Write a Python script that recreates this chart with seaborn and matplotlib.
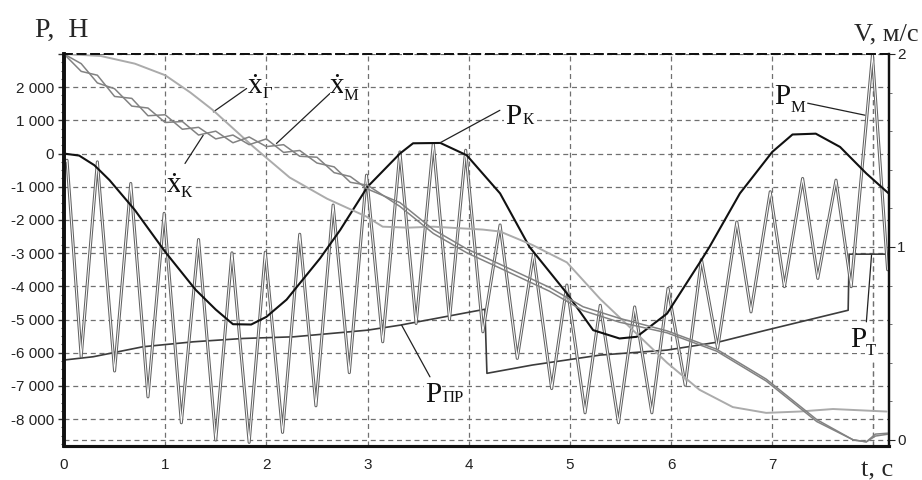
import matplotlib
matplotlib.use("Agg")
import matplotlib.pyplot as plt
import seaborn as sns
from matplotlib.ticker import MultipleLocator, FixedLocator, FuncFormatter

# P_M - oscillating force (peaks and troughs)
t_pm = [0.00, 0.03, 0.17, 0.33, 0.50, 0.66, 0.83, 0.99, 1.16, 1.33, 1.50, 1.66,
        1.83, 1.99, 2.16, 2.33, 2.49, 2.66, 2.82, 2.99, 3.15, 3.32, 3.48, 3.65,
        3.81, 3.97, 4.14, 4.31, 4.48, 4.64, 4.82, 4.97, 5.15, 5.30, 5.48, 5.64,
        5.81, 5.97, 6.14, 6.30, 6.46, 6.65, 6.79, 6.98, 7.12, 7.30, 7.45, 7.63,
        7.78, 7.99, 8.14]
p_m = [-300, -200, -6120, -250, -6550, -900, -7330, -1800, -8110, -2590, -8630, -2990,
       -8700, -2970, -8400, -2430, -7600, -1550, -6600, -650, -5670, 50, -5120, 300,
       -5000, 100, -5370, -2150, -6170, -3030, -7080, -3960, -7810, -4570, -8110, -4620,
       -7810, -4060, -6980, -3190, -5870, -2060, -4770, -1150, -4010, -750, -3760, -800,
       -4010, 2960, -3500]

# P_K - smooth force
t_pk = [0.00, 0.15, 0.30, 0.45, 0.70, 1.00, 1.30, 1.50, 1.67, 1.85, 2.00, 2.20,
        2.33, 2.53, 2.73, 3.00, 3.32, 3.45, 3.72, 3.98, 4.31, 4.60, 4.97, 5.23,
        5.49, 5.66, 5.96, 6.28, 6.38, 6.68, 7.00, 7.20, 7.43, 7.67, 7.93, 8.15]
p_k = [0, -60, -350, -800, -1700, -2960, -4100, -4700, -5140, -5150, -4920, -4400,
       -3910, -3160, -2300, -1000, 0, 310, 320, -50, -1200, -2810, -4210, -5320,
       -5570, -5520, -4820, -3300, -2810, -1200, 50, 575, 600, 200, -600, -1200]

# P_PR - ramp force with drops / jump
t_ppr = [0.00, 0.29, 0.78, 1.28, 1.77, 2.27, 3.00, 3.32, 4.16, 4.18, 4.63, 5.30,
         5.96, 6.48, 6.94, 7.75, 7.76, 8.15]
p_ppr = [-6220, -6120, -5820, -5670, -5570, -5520, -5320, -5170, -4690, -6620, -6370, -6070,
         -5920, -5670, -5320, -4720, -3030, -3030]

# velocities, m/s
t_g = [0.00, 0.36, 0.70, 1.00, 1.25, 1.47, 1.87, 2.23, 2.60, 2.99, 3.15, 3.40,
       3.65, 4.14, 4.31, 4.63, 4.97, 5.30, 5.62, 5.96, 6.28, 6.61, 6.94, 7.27,
       7.60, 8.13]
v_g = [2.00, 1.99, 1.95, 1.89, 1.80, 1.71, 1.52, 1.36, 1.25, 1.157, 1.105, 1.10,
       1.105, 1.09, 1.08, 1.01, 0.92, 0.73, 0.57, 0.40, 0.26, 0.17, 0.14, 0.147,
       0.16, 0.147]

t_v = [0.00, 0.17, 0.33, 0.50, 0.67, 0.83, 1.00, 1.17, 1.33, 1.50, 1.67, 1.83,
       2.00, 2.17, 2.33, 2.50, 2.67, 2.83, 3.00, 3.32, 3.65, 3.98, 4.31, 4.80,
       5.13, 5.49, 5.96, 6.45, 6.94, 7.44, 7.80, 7.93, 8.02, 8.15]
v_m = [2.00, 1.95, 1.85, 1.82, 1.73, 1.72, 1.645, 1.65, 1.58, 1.60, 1.54, 1.57,
       1.52, 1.53, 1.47, 1.465, 1.385, 1.365, 1.30, 1.23, 1.09, 0.99, 0.91, 0.79,
       0.69, 0.63, 0.565, 0.47, 0.315, 0.105, 0.0, -0.01, 0.03, 0.035]
v_k = [2.00, 1.91, 1.89, 1.78, 1.77, 1.68, 1.685, 1.61, 1.62, 1.56, 1.58, 1.53,
       1.56, 1.49, 1.50, 1.435, 1.415, 1.335, 1.32, 1.21, 1.07, 0.97, 0.89, 0.77,
       0.67, 0.61, 0.555, 0.46, 0.305, 0.095, 0.0, -0.01, 0.02, 0.03]

x_ticks = [0, 1, 2, 3, 4, 5, 6, 7]
y_ticks = [2000, 1000, 0, -1000, -2000, -3000, -4000, -5000, -6000, -7000, -8000]
v_ticks = [0, 1, 2]

sns.set_style("white")
plt.rcParams['font.family'] = ['Liberation Sans', 'DejaVu Sans']
serif = ['Liberation Serif', 'DejaVu Serif']

fig = plt.figure(figsize=(9.22, 4.8), dpi=100)
ax = fig.add_axes([0.0694, 0.0715, 0.8944, 0.8160])
ax2 = ax.twinx()

ax.set_xlim(0, 8.15)
ax.set_ylim(-8800, 3000)
ax2.set_ylim(-0.03, 2.0)

grid_kw = dict(color='#707070', linestyle=(0, (4, 3)), linewidth=0.9)
ax.set_axisbelow(True)
ax.grid(True, **grid_kw)
for v in [0, 1]:
    ax.axhline(-8800 + (v + 0.03) / 2.03 * 11800, zorder=0.5, **grid_kw)
ax.axvline(8, zorder=0.5, **grid_kw)

# forces
sns.lineplot(x=t_ppr, y=p_ppr, ax=ax, sort=False, estimator=None, color='#3c3c3c', lw=1.2)
sns.lineplot(x=t_pm, y=p_m, ax=ax, sort=False, estimator=None, color='#626262', lw=2.2)
sns.lineplot(x=t_pm, y=p_m, ax=ax, sort=False, estimator=None, color='white', lw=0.7)
sns.lineplot(x=t_pk, y=p_k, ax=ax, sort=False, estimator=None, color='#111111', lw=1.5)

# velocities
sns.lineplot(x=t_g, y=v_g, ax=ax2, sort=False, estimator=None, color='#ababab', lw=1.4)
sns.lineplot(x=t_v, y=v_m, ax=ax2, sort=False, estimator=None, color='#828282', lw=1.1)
sns.lineplot(x=t_v, y=v_k, ax=ax2, sort=False, estimator=None, color='#828282', lw=1.1)

# axes decoration
ax.xaxis.set_major_locator(FixedLocator(x_ticks + [8]))
ax.set_xticklabels([str(x) for x in x_ticks] + [''])
ax.xaxis.set_minor_locator(MultipleLocator(0.2))
ax.yaxis.set_major_locator(FixedLocator(y_ticks + [3000]))
ax.yaxis.set_minor_locator(MultipleLocator(250))


def fmt(v, pos):
    if v > 2500:
        return ''
    s = f"{abs(int(round(v))):,}".replace(",", " ")
    return ("-" if v < 0 else "") + s


ax.yaxis.set_major_formatter(FuncFormatter(fmt))
ax.tick_params(axis='both', which='major', direction='out', length=4, width=1,
               labelsize=11, labelcolor='#222222', color='#333333')
ax.tick_params(axis='both', which='minor', direction='out', length=2.5, width=0.8,
               color='#555555')
ax.tick_params(axis='x', pad=5)
ax.tick_params(axis='y', pad=3)

ax2.yaxis.set_major_locator(FixedLocator(v_ticks))
ax2.yaxis.set_minor_locator(MultipleLocator(0.2))
ax2.tick_params(axis='y', which='major', direction='out', length=4, labelsize=11,
                labelcolor='#222222', pad=2)
ax2.tick_params(axis='y', which='minor', direction='out', length=2.5, color='#555555')

for a in (ax, ax2):
    a.spines['left'].set_linewidth(2.6)
    a.spines['bottom'].set_linewidth(2.2)
    a.spines['right'].set_linewidth(1.6)
    a.spines['top'].set_linestyle((0, (4, 3)))
    a.spines['top'].set_linewidth(1.4)
    for s in a.spines.values():
        s.set_color('#111111')
ax.set_xlabel('')
ax.set_ylabel('')
ax2.set_ylabel('')

# axis titles
fig.text(35 / 922, 1 - 37 / 480, 'P,  Н', fontsize=20, family=serif, va='baseline')
fig.text(919 / 922, 1 - 40 / 480, 'V, м/с', fontsize=19, family=serif, va='baseline', ha='right')
fig.text(877 / 922, 1 - 476 / 480, 't, с', fontsize=19, family=serif, va='baseline', ha='center')

# curve labels with leaders
lead = dict(arrowstyle='-', color='#222222', lw=0.9, shrinkA=0, shrinkB=0)
leaders = [((4.308, 1304), (3.715, 322)),
           ((7.35, 1518), (7.915, 1157)),
           ((3.617, -6726), (3.337, -5169)),
           ((7.93, -5069), (7.981, -3060)),
           ((1.805, 1961), (1.476, 1256)),
           ((2.628, 1810), (2.10, 304)),
           ((1.196, -298), (1.376, 554))]
for start, end in leaders:
    ax.annotate('', xy=end, xytext=start, arrowprops=lead)

labels = [('P', 4.437, 883, 21), ('К', 4.585, 883, 12),
          ('P', 7.10, 1488, 21), ('М', 7.25, 1247, 12),
          ('P', 3.646, -7479, 21), ('ПР', 3.85, -7479, 12),
          ('P', 7.846, -5822, 21), ('Т', 7.97, -6072, 12),
          ('ẋ', 1.892, 1820, 21), ('Г', 2.01, 1667, 12),
          ('ẋ', 2.703, 1820, 21), ('М', 2.835, 1608, 12),
          ('ẋ', 1.087, -1154, 21), ('К', 1.21, -1304, 12)]
for txt, tx, ty, fs in labels:
    ax.text(tx, ty, txt, fontsize=fs, family=serif, ha='center', va='baseline',
            color='#111111', zorder=5,
            bbox=dict(facecolor='white', edgecolor='none', pad=0.5))

fig.savefig('out.png', dpi=100)
